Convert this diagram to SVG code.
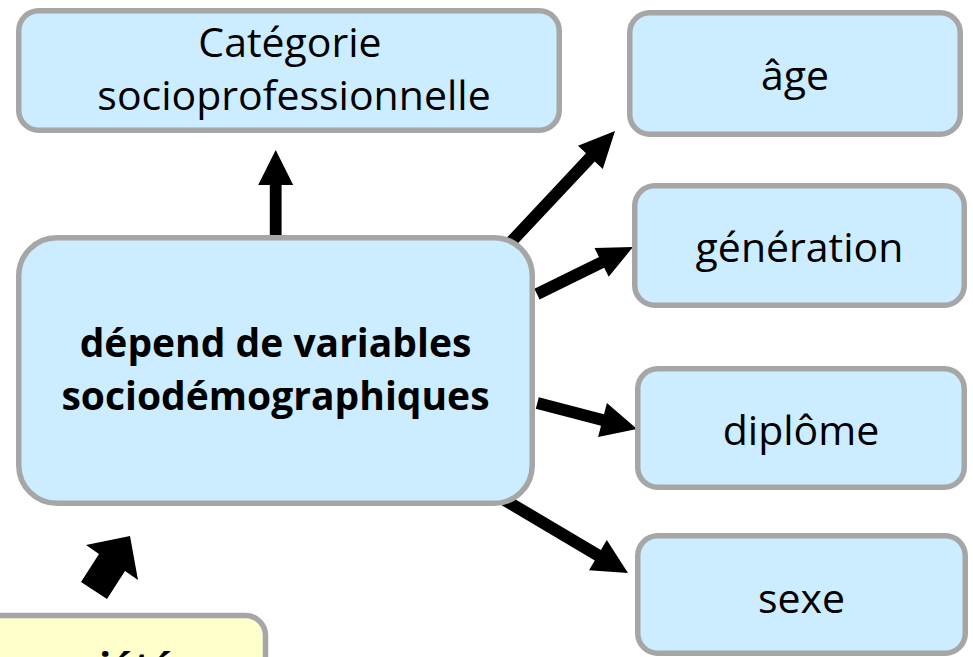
<svg xmlns="http://www.w3.org/2000/svg" width="973" height="657" viewBox="0 0 973 657">
<style>
.box{fill:#CCECFF;stroke:#A6A6A6;stroke-width:5.5}
.ybox{fill:#FFFFCC;stroke:#A6A6A6;stroke-width:5.5}
.t{font-family:"Open Sans","Noto Sans","Liberation Sans",sans-serif;font-size:41px;fill:#000;text-anchor:middle}
.b{font-family:"Open Sans","Noto Sans","Liberation Sans",sans-serif;font-size:39px;font-weight:bold;fill:#000;text-anchor:middle}
.arrow{fill:#000;stroke:none}
</style>
<rect x="0" y="0" width="973" height="657" fill="#FFFFFF"/>
<g id="connectors">
<polygon class="arrow" points="275.7,150 293.2,185 281.6,185 281.6,238 269.8,238 269.8,185 258.2,185"/>
<polygon class="arrow" points="615,131 602.8,168.9 594.8,161.4 515.2,246.3 506.4,238.1 586.0,153.2 578.0,145.7"/>
<polygon class="arrow" points="633,247 608.7,276.8 604.2,267.8 539.6,299.6 534.4,288.8 599.0,257.0 594.5,248.0"/>
<polygon class="arrow" points="637,429 598.1,436.9 601.0,425.8 535.8,408.8 538.8,397.2 604.0,414.2 606.9,403.1"/>
<polygon class="arrow" points="628,573 589.0,570.3 594.8,560.4 501.6,505.2 507.8,494.8 600.9,550.0 606.8,540.1"/>
<polygon class="arrow" points="130,536 138,580 125,571 107,599 81,582 99,554 86,545"/>
</g>
<g id="categorie">
<rect class="box" x="18.75" y="10.75" width="540.5" height="119.5" rx="20"/>
<text class="t" x="290" y="57">Catégorie</text>
<text class="t" x="294" y="110">socioprofessionnelle</text>
</g>
<g id="main">
<rect class="box" x="18.75" y="237.75" width="513.5" height="265.5" rx="38"/>
<text class="b" x="275.5" y="357">dépend de variables</text>
<text class="b" x="275.5" y="410">sociodémographiques</text>
</g>
<g id="age">
<rect class="box" x="629.75" y="12.75" width="330.5" height="121.5" rx="20"/>
<text class="t" x="795" y="90">âge</text>
</g>
<g id="generation">
<rect class="box" x="634.75" y="185.75" width="329.5" height="119.5" rx="20"/>
<text class="t" x="799.5" y="262">génération</text>
</g>
<g id="diplome">
<rect class="box" x="637.75" y="368.75" width="326.5" height="118.5" rx="20"/>
<text class="t" x="801" y="445">diplôme</text>
</g>
<g id="sexe">
<rect class="box" x="637.75" y="535.75" width="327.5" height="117.5" rx="20"/>
<text class="t" x="801.5" y="613">sexe</text>
</g>
<g id="societe">
<rect class="ybox" x="-60" y="615.5" width="325.5" height="90" rx="20"/>
<text class="b" x="105" y="681">société</text>
</g>
</svg>
